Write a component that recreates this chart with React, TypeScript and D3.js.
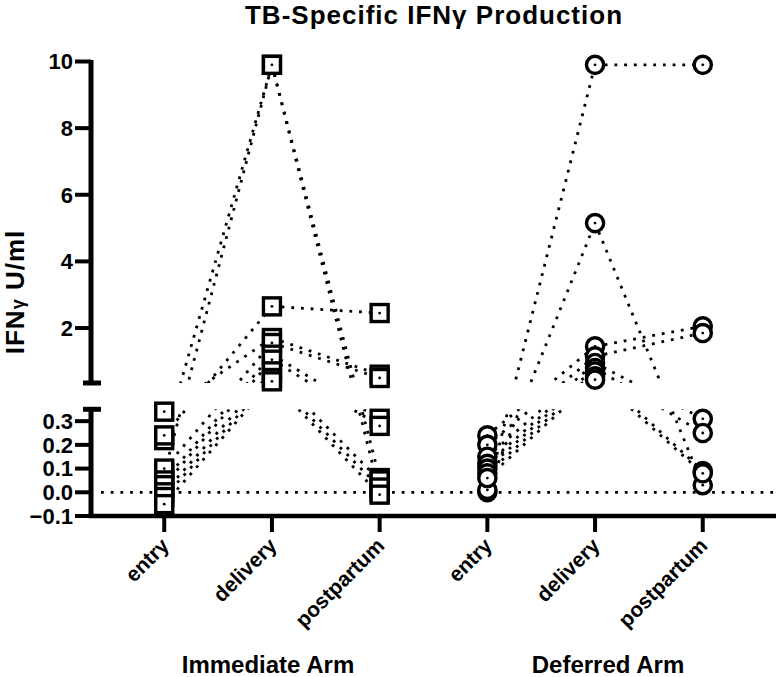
import React from "react";
import * as d3 from "d3";

// ---- Data ----
const categoryKeys = ["I-entry", "I-delivery", "I-postpartum", "D-entry", "D-delivery", "D-postpartum"];
const tickLabels = ["entry", "delivery", "postpartum", "entry", "delivery", "postpartum"];
const groupLabels = ["Immediate Arm", "Deferred Arm"];

const immediateEntry = [0.22, 0.08, 0.24, 0.34, 0.10, 0.05, 0.03, 0.0, -0.02, -0.05];
const immediateDelivery = [9.9, 9.9, 2.65, 1.7, 1.55, 1.2, 1.05, 0.7, 0.5, 0.4];
const immediatePostpartum = [0.06, 0.0, 2.45, 0.6, 0.5, 0.31, 0.28, 0.05, 0.02, -0.01];

const deferredEntry = [0.0, 0.01, 0.24, 0.2, 0.15, 0.12, 0.1, 0.08, 0.06];
const deferredDelivery = [9.9, 5.15, 1.45, 1.15, 0.95, 0.8, 0.7, 0.55, 0.45];
const deferredPostpartum: (number | null)[] = [9.9, 0.03, 2.05, 1.85, 0.31, 0.25, 0.09, 0.08, null];

const upperTicks = [2, 4, 6, 8, 10];
const lowerTicks = [-0.1, 0.0, 0.1, 0.2, 0.3];
const breakValue = 0.35;

const W = 776;
const H = 677;
const FONT = "'Liberation Sans', Arial, Helvetica, sans-serif";

export default function App() {
  const axisX = 91;
  const x = d3.scalePoint<string>().domain(categoryKeys).range([axisX, W]).padding(0.68);
  const yTop = d3.scaleLinear().domain([breakValue, 10]).range([383, 61.5]);
  const yBot = d3.scaleLinear().domain([-0.1, breakValue]).range([516, 409.3]);
  const y = (v: number) => (v >= breakValue ? yTop(v) : yBot(v));

  const immediate = immediateEntry.map((e, i) => [e, immediateDelivery[i], immediatePostpartum[i]]);
  const deferred = deferredEntry.map((e, i) => [e, deferredDelivery[i], deferredPostpartum[i]]);

  const lineGen = d3
    .line<[number, number]>()
    .x((d) => d[0])
    .y((d) => d[1]);

  const segs: string[] = [];
  const addSegs = (rows: (number | null)[][], offset: number) => {
    rows.forEach((r) => {
      for (let k = 0; k < r.length - 1; k++) {
        const a = r[k];
        const b = r[k + 1];
        if (a == null || b == null) continue;
        const p1: [number, number] = [x(categoryKeys[offset + k])!, y(a)];
        const p2: [number, number] = [x(categoryKeys[offset + k + 1])!, y(b)];
        segs.push(lineGen([p1, p2])!);
      }
    });
  };
  addSegs(immediate, 0);
  addSegs(deferred, 3);

  const dash = { stroke: "#000", strokeWidth: 2.8, strokeDasharray: "2.8 6.9", fill: "none" };
  const yBotTop = yBot(breakValue);
  const yTopBottom = yTop(breakValue);
  const xAxisY = yBot(-0.1);

  const sq = 17;
  const markerStroke = 3.4;

  return (
    <div style={{ position: "absolute", left: 0, top: 0 }}>
      <svg width={W} height={H} style={{ display: "block", background: "#fff" }} fontFamily={FONT}>
        <defs>
          <clipPath id="noGap">
            <rect x={0} y={0} width={W} height={yTopBottom} />
            <rect x={0} y={yBotTop} width={W} height={H - yBotTop} />
          </clipPath>
        </defs>

        {/* title */}
        <text x={434} y={24} textAnchor="middle" fontSize={26} fontWeight="bold" letterSpacing={1}>
          TB-Specific IFNγ Production
        </text>

        {/* connecting lines */}
        <g clipPath="url(#noGap)">
          {segs.map((d, i) => (
            <path key={i} d={d} {...dash} />
          ))}
        </g>

        {/* zero line */}
        <line x1={101} x2={W} y1={yBot(0)} y2={yBot(0)} {...dash} />

        {/* markers: immediate (squares) */}
        {immediate.map((r, i) =>
          r.map((v, k) =>
            v == null ? null : (
              <g key={`s${i}-${k}`}>
                <rect
                  x={x(categoryKeys[k])! - sq / 2}
                  y={y(v) - sq / 2}
                  width={sq}
                  height={sq}
                  fill="#fff"
                  stroke="#000"
                  strokeWidth={markerStroke}
                />
                <circle cx={x(categoryKeys[k])!} cy={y(v)} r={1.4} fill="#000" />
              </g>
            )
          )
        )}
        {/* markers: deferred (circles) */}
        {deferred.map((r, i) =>
          r.map((v, k) =>
            v == null ? null : (
              <g key={`c${i}-${k}`}>
                <circle
                  cx={x(categoryKeys[3 + k])!}
                  cy={y(v)}
                  r={8.6}
                  fill="#fff"
                  stroke="#000"
                  strokeWidth={markerStroke}
                />
                <circle cx={x(categoryKeys[3 + k])!} cy={y(v)} r={1.4} fill="#000" />
              </g>
            )
          )
        )}

        {/* y axis upper segment */}
        <line x1={axisX} x2={axisX} y1={yTop(10) - 1.5} y2={yTopBottom} stroke="#000" strokeWidth={5} />
        <line x1={83} x2={101} y1={yTopBottom} y2={yTopBottom} stroke="#000" strokeWidth={5} />
        {upperTicks.map((t) => (
          <g key={`ut${t}`}>
            <line x1={75} x2={axisX} y1={yTop(t)} y2={yTop(t)} stroke="#000" strokeWidth={4} />
            <text x={73} y={yTop(t)} dy="0.36em" textAnchor="end" fontSize={22} fontWeight="bold">
              {d3.format("d")(t)}
            </text>
          </g>
        ))}

        {/* y axis lower segment */}
        <line x1={axisX} x2={axisX} y1={yBotTop} y2={xAxisY} stroke="#000" strokeWidth={5} />
        <line x1={83} x2={101} y1={yBotTop} y2={yBotTop} stroke="#000" strokeWidth={5} />
        {lowerTicks.map((t) => (
          <g key={`lt${t}`}>
            <line x1={75} x2={axisX} y1={yBot(t)} y2={yBot(t)} stroke="#000" strokeWidth={4} />
            <text x={73} y={yBot(t)} dy="0.36em" textAnchor="end" fontSize={22} fontWeight="bold">
              {d3.format(".1f")(t)}
            </text>
          </g>
        ))}

        {/* y axis title */}
        <text
          transform={`translate(24,${292}) rotate(-90)`}
          textAnchor="middle"
          fontSize={26}
          fontWeight="bold"
          letterSpacing={1}
        >
          IFN<tspan fontSize={18}>γ</tspan> U/ml
        </text>

        {/* x axis */}
        <line x1={axisX - 2.5} x2={W} y1={xAxisY} y2={xAxisY} stroke="#000" strokeWidth={4.5} />
        {categoryKeys.map((k, i) => (
          <g key={k}>
            <line x1={x(k)!} x2={x(k)!} y1={xAxisY} y2={xAxisY + 16} stroke="#000" strokeWidth={4} />
            <text
              transform={`translate(${x(k)! + 6},${547}) rotate(-45)`}
              textAnchor="end"
              fontSize={21}
              fontWeight="bold"
            >
              {tickLabels[i]}
            </text>
          </g>
        ))}

        {/* group labels */}
        <text x={268} y={673} textAnchor="middle" fontSize={24} fontWeight="bold">
          {groupLabels[0]}
        </text>
        <text x={608} y={673} textAnchor="middle" fontSize={24} fontWeight="bold">
          {groupLabels[1]}
        </text>
      </svg>
    </div>
  );
}
